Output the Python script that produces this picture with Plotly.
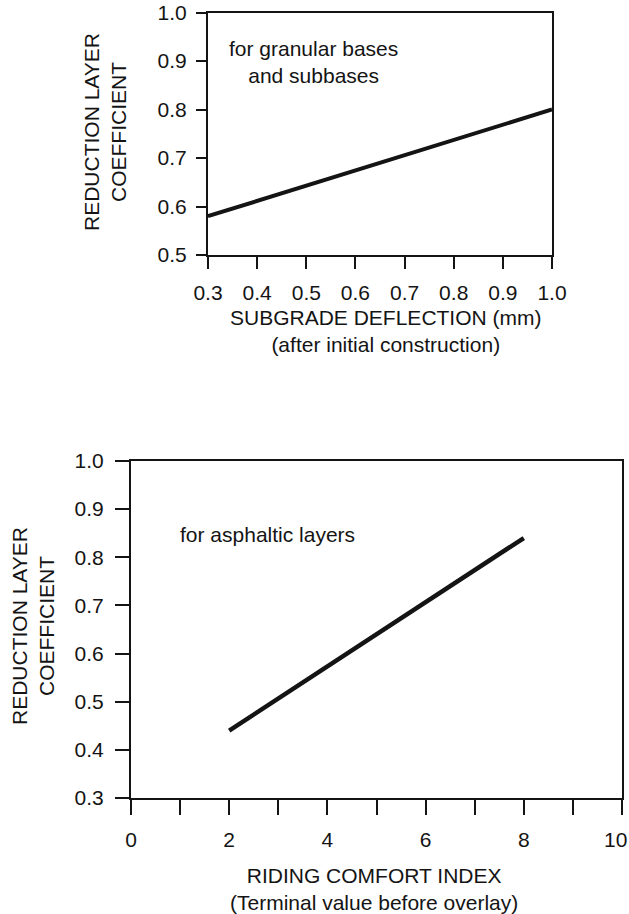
import plotly.graph_objects as go

# Upper chart: layer coefficient vs. subgrade deflection (granular layers)
deflection_mm = [0.3, 1.0]
coef_granular = [0.58, 0.80]
deflection_ticks = [0.3, 0.4, 0.5, 0.6, 0.7, 0.8, 0.9, 1.0]
coef_ticks_top = [0.5, 0.6, 0.7, 0.8, 0.9, 1.0]

# Lower chart: layer coefficient vs. riding comfort index (asphaltic layers)
rci = [2, 8]
coef_asphaltic = [0.44, 0.84]
rci_ticks = [0, 1, 2, 3, 4, 5, 6, 7, 8, 9, 10]
rci_labels = ["0", "", "2", "", "4", "", "6", "", "8", "", ""]
rci_end_label = "10"
coef_ticks_bottom = [0.3, 0.4, 0.5, 0.6, 0.7, 0.8, 0.9, 1.0]

INK = "#141414"
FONT = "Liberation Sans, Arial, Helvetica, sans-serif"
FS = 21
W, H = 629, 914


def px_x(p):
    return p / W


def px_y(p):
    return 1 - p / H


fig = go.Figure()
fig.add_trace(go.Scatter(x=deflection_mm, y=coef_granular, mode="lines",
                         line=dict(color=INK, width=4), xaxis="x", yaxis="y",
                         showlegend=False, hoverinfo="skip"))
fig.add_trace(go.Scatter(x=rci, y=coef_asphaltic, mode="lines",
                         line=dict(color=INK, width=4.5), xaxis="x2", yaxis="y2",
                         showlegend=False, hoverinfo="skip"))

axis_common = dict(showline=True, linewidth=2, linecolor=INK, mirror=True,
                   showgrid=False, zeroline=False, automargin=False,
                   ticklabeloverflow="allow",
                   ticks="outside", tickwidth=2, tickcolor=INK,
                   tickfont=dict(family=FONT, size=FS, color=INK))

fig.update_layout(
    template="none",
    width=W, height=H,
    margin=dict(l=0, r=0, t=0, b=0, pad=0, autoexpand=False),
    paper_bgcolor="white", plot_bgcolor="white",
    xaxis=dict(axis_common, domain=[px_x(208), px_x(552)], range=[0.3, 1.0],
               tickvals=deflection_ticks, tickformat=".1f", ticklen=12,
               ticklabelstandoff=6, anchor="y"),
    yaxis=dict(axis_common, domain=[px_y(255), px_y(12.5)], range=[0.5, 1.0],
               tickvals=coef_ticks_top, tickformat=".1f", ticklen=10,
               ticklabelstandoff=5, anchor="x"),
    xaxis2=dict(axis_common, domain=[px_x(131), px_x(622)], range=[0, 10],
                tickvals=rci_ticks, ticktext=rci_labels, ticklen=15,
                ticklabelstandoff=7, anchor="y2"),
    yaxis2=dict(axis_common, domain=[px_y(798), px_y(461)], range=[0.3, 1.0],
                tickvals=coef_ticks_bottom, tickformat=".1f", ticklen=14,
                ticklabelstandoff=7, anchor="x2"),
)

text_font = dict(family=FONT, size=FS, color=INK)

annotations = [
    # in-plot notes
    dict(text="for granular bases<br>and subbases", x=0.514, y=0.898,
         xref="x", yref="y"),
    dict(text="for asphaltic layers", x=2.78, y=0.848, xref="x2", yref="y2"),
    # last index label, nudged left so it stays inside the page edge
    dict(text=rci_end_label, x=rci_ticks[-1], y=px_y(839), xref="x2",
         yref="paper", xshift=-7),
    # axis titles
    dict(text="SUBGRADE DEFLECTION (mm)<br>(after initial construction)",
         x=px_x(386), y=px_y(331), xref="paper", yref="paper"),
    dict(text="REDUCTION LAYER<br>COEFFICIENT", x=px_x(105), y=px_y(132),
         xref="paper", yref="paper", textangle=-90),
    dict(text="RIDING COMFORT INDEX<br>(Terminal value before overlay)",
         x=px_x(374), y=px_y(888.5), xref="paper", yref="paper"),
    dict(text="REDUCTION LAYER<br>COEFFICIENT", x=px_x(33), y=px_y(626),
         xref="paper", yref="paper", textangle=-90),
]
for a in annotations:
    fig.add_annotation(**a, showarrow=False, font=text_font,
                       xanchor="center", yanchor="middle", align="center")

# page without the default body margin so the figure fills the window exactly
fig.write_html("out.html",
               post_script="document.body.style.margin='0';"
                           "document.body.style.overflow='hidden';")
